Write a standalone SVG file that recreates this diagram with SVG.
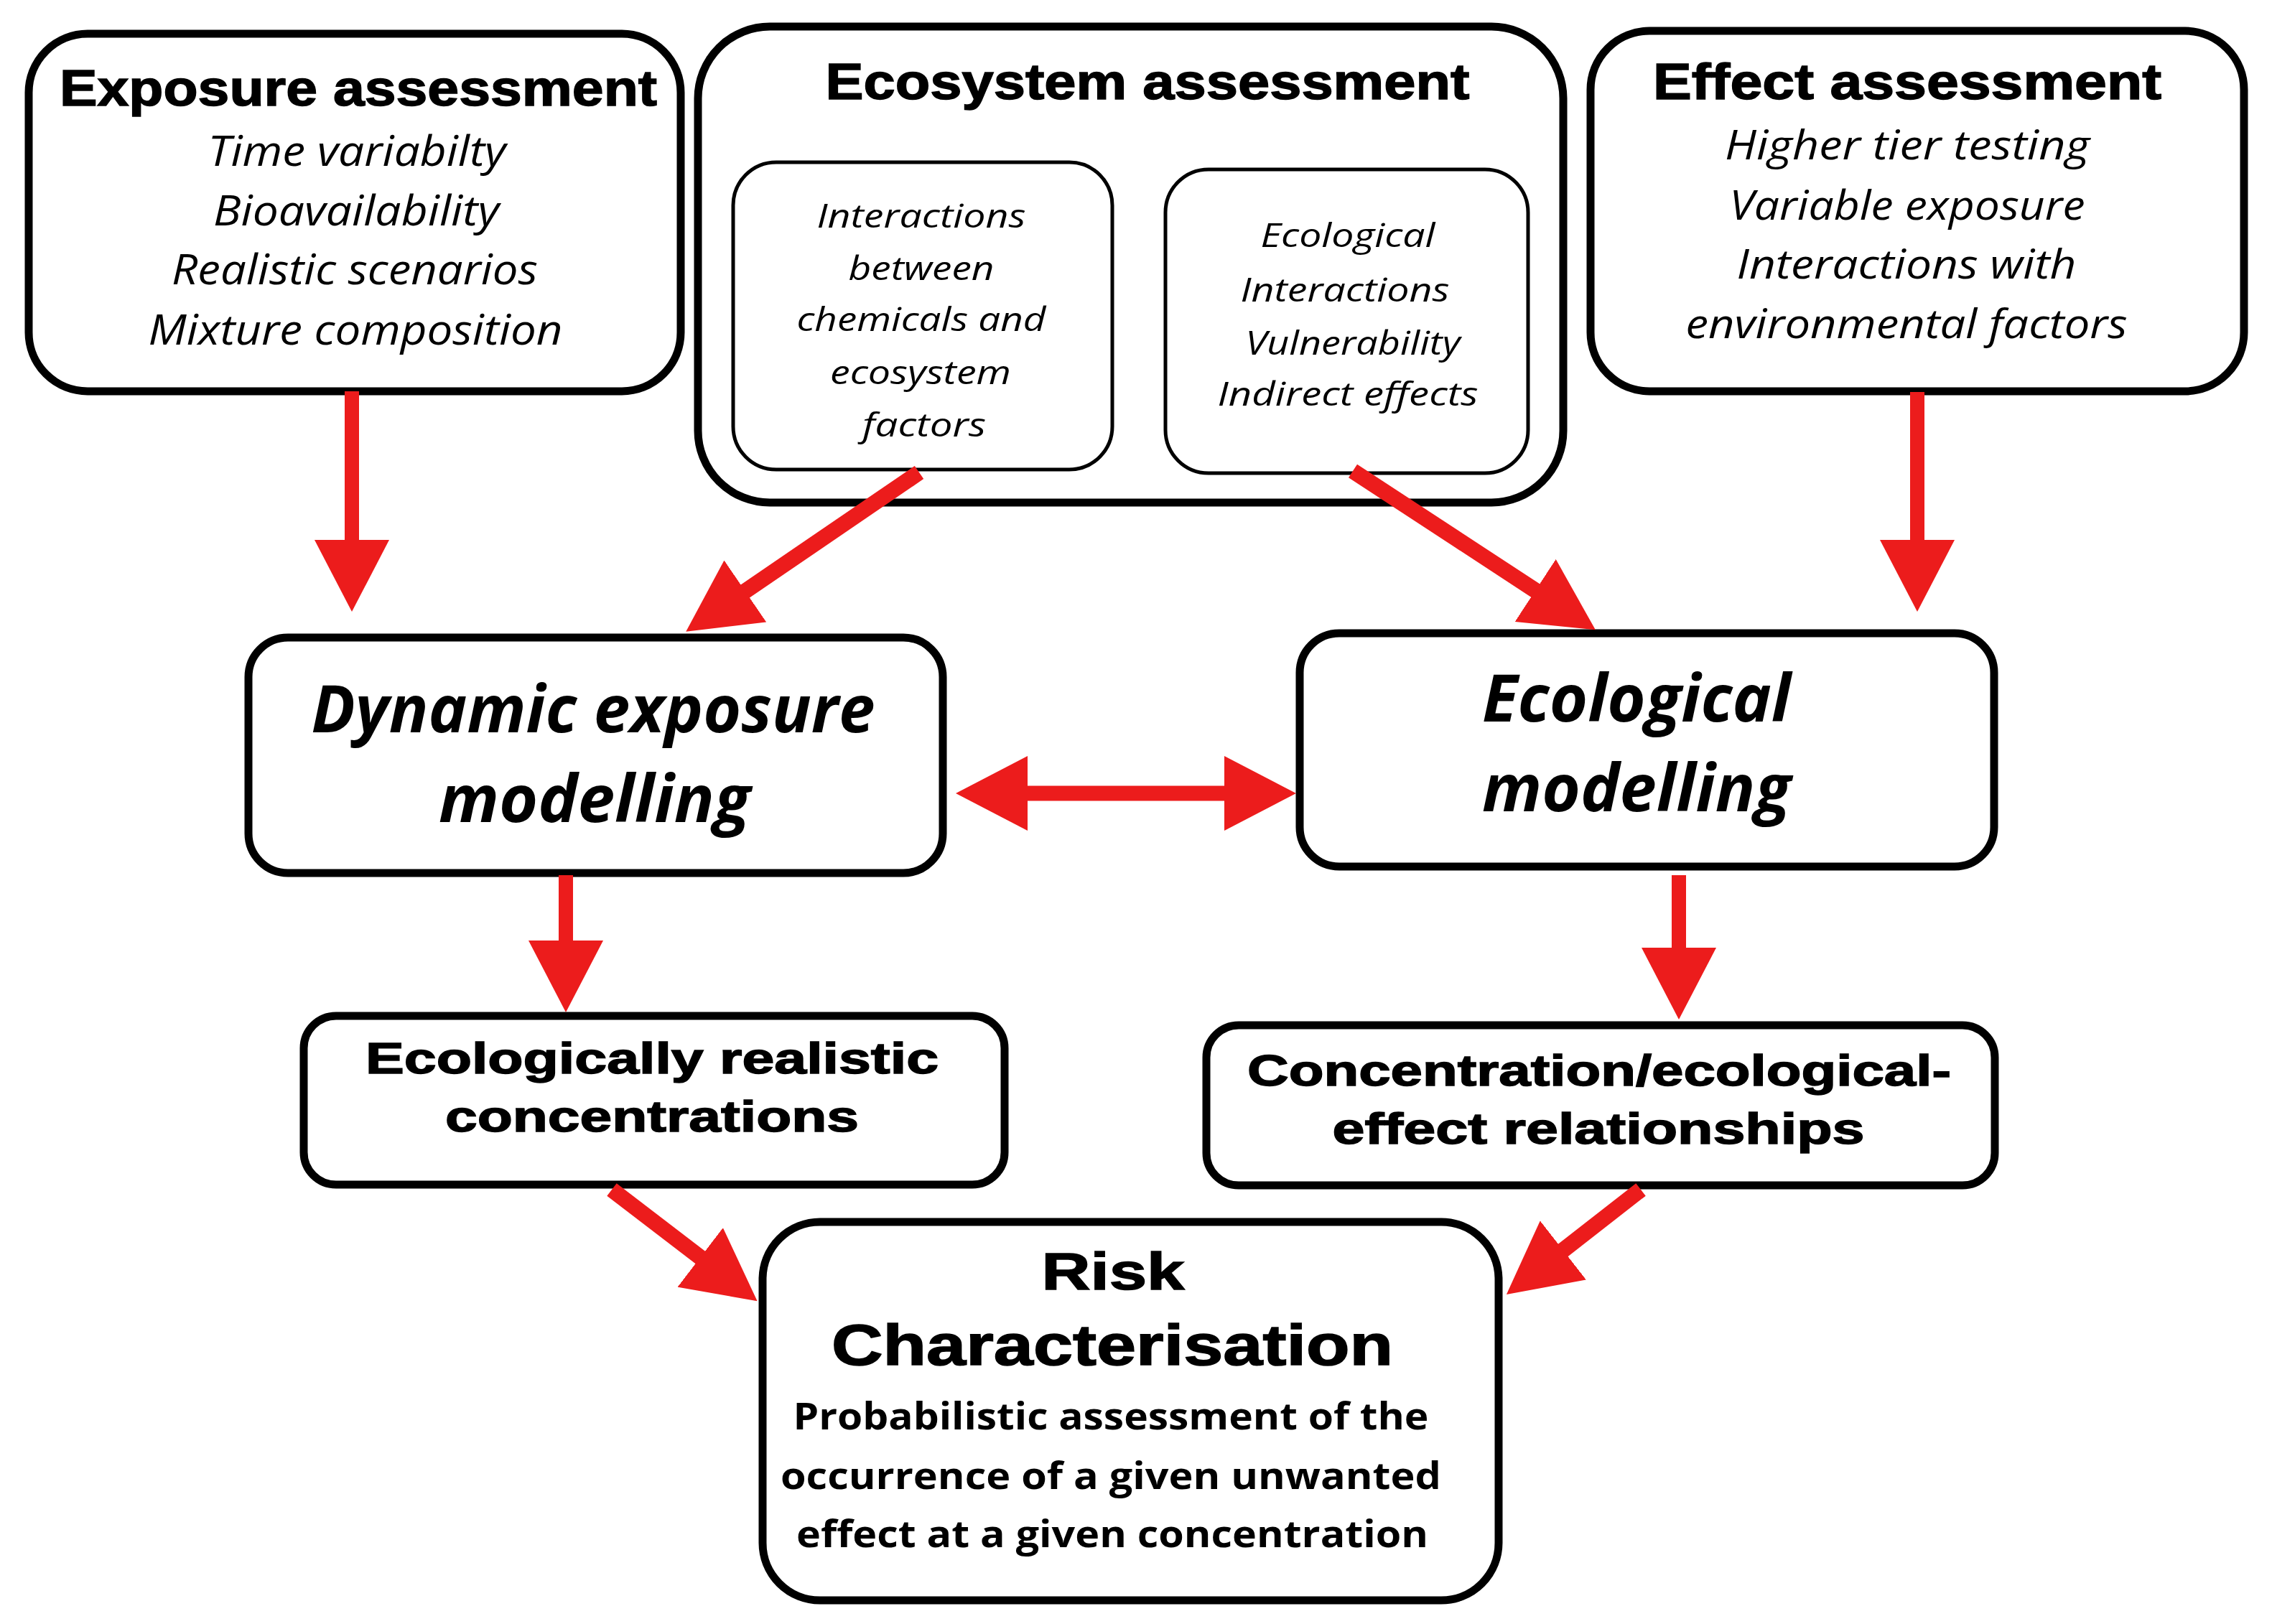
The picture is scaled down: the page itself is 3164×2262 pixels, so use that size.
<svg xmlns="http://www.w3.org/2000/svg" width="3164" height="2262" viewBox="0 0 3164 2262">
<defs>
<style>
.box{fill:#fff;stroke:#000;stroke-width:11}
.inner{fill:#fff;stroke:#000;stroke-width:5}
.title{font-family:"Liberation Sans",Arial,sans-serif;font-weight:700;fill:#000;stroke:#000;stroke-width:1.5;text-anchor:middle}
.it{font-family:"Open Sans","Noto Sans",sans-serif;font-style:italic;font-weight:400;fill:#000;text-anchor:middle}
.bi{font-family:"Open Sans","Noto Sans",sans-serif;font-style:italic;font-weight:700;fill:#000;text-anchor:middle}
.body{font-family:"Open Sans","Noto Sans",sans-serif;font-weight:700;fill:#000;text-anchor:middle}
.arr{stroke:#EC1C1C;fill:none;marker-end:url(#head)}
.dbl{stroke:#EC1C1C;fill:none;marker-start:url(#head2);marker-end:url(#head)}
</style>
<marker id="head" markerUnits="userSpaceOnUse" markerWidth="100" markerHeight="104" viewBox="0 0 100 104" refX="1" refY="52" orient="auto">
<path d="M0,0 L100,52 L0,104 Z" fill="#EC1C1C"/>
</marker>
<marker id="head2" markerUnits="userSpaceOnUse" markerWidth="100" markerHeight="104" viewBox="0 0 100 104" refX="1" refY="52" orient="auto-start-reverse">
<path d="M0,0 L100,52 L0,104 Z" fill="#EC1C1C"/>
</marker>
</defs>
<rect width="3164" height="2262" fill="#fff"/>

<g id="exposure-assessment">
<rect class="box" x="40" y="47" width="908" height="498" rx="82"/>
<text class="title" x="499" y="147" font-size="71" textLength="832" lengthAdjust="spacingAndGlyphs">Exposure assessment</text>
<text class="it" x="497" y="231" font-size="58" textLength="415" lengthAdjust="spacingAndGlyphs">Time variabilty</text>
<text class="it" x="496" y="314" font-size="58" textLength="398" lengthAdjust="spacingAndGlyphs">Bioavailability</text>
<text class="it" x="494" y="396" font-size="58" textLength="510" lengthAdjust="spacingAndGlyphs">Realistic scenarios</text>
<text class="it" x="495" y="480" font-size="58" textLength="577" lengthAdjust="spacingAndGlyphs">Mixture composition</text>
</g>

<g id="ecosystem-assessment">
<rect class="box" x="972" y="37" width="1205" height="663" rx="100"/>
<text class="title" x="1598" y="138" font-size="71" textLength="897" lengthAdjust="spacingAndGlyphs">Ecosystem assessment</text>
</g>

<g id="interactions-chemicals">
<rect class="inner" x="1021" y="226" width="528" height="428" rx="60"/>
<text class="it" x="1283" y="317" font-size="46" textLength="291" lengthAdjust="spacingAndGlyphs">Interactions</text>
<text class="it" x="1283" y="390" font-size="46" textLength="203" lengthAdjust="spacingAndGlyphs">between</text>
<text class="it" x="1283" y="461" font-size="46" textLength="347" lengthAdjust="spacingAndGlyphs">chemicals and</text>
<text class="it" x="1282" y="535" font-size="46" textLength="252" lengthAdjust="spacingAndGlyphs">ecosystem</text>
<text class="it" x="1287" y="608" font-size="46" textLength="172" lengthAdjust="spacingAndGlyphs">factors</text>
</g>

<g id="ecological-interactions">
<rect class="inner" x="1623" y="236" width="505" height="423" rx="60"/>
<text class="it" x="1877" y="344" font-size="46" textLength="243" lengthAdjust="spacingAndGlyphs">Ecological</text>
<text class="it" x="1873" y="420" font-size="46" textLength="291" lengthAdjust="spacingAndGlyphs">Interactions</text>
<text class="it" x="1884" y="494" font-size="46" textLength="299" lengthAdjust="spacingAndGlyphs">Vulnerability</text>
<text class="it" x="1877" y="565" font-size="46" textLength="363" lengthAdjust="spacingAndGlyphs">Indirect effects</text>
</g>

<g id="effect-assessment">
<rect class="box" x="2215" y="43" width="910" height="502" rx="82"/>
<text class="title" x="2656" y="138" font-size="71" textLength="708" lengthAdjust="spacingAndGlyphs">Effect assessment</text>
<text class="it" x="2656" y="222" font-size="56" textLength="508" lengthAdjust="spacingAndGlyphs">Higher tier testing</text>
<text class="it" x="2656" y="306" font-size="56" textLength="495" lengthAdjust="spacingAndGlyphs">Variable exposure</text>
<text class="it" x="2655" y="388" font-size="56" textLength="473" lengthAdjust="spacingAndGlyphs">Interactions with</text>
<text class="it" x="2655" y="471" font-size="56" textLength="615" lengthAdjust="spacingAndGlyphs">environmental factors</text>
</g>

<g id="dynamic-exposure-modelling">
<rect class="box" x="346" y="888" width="967" height="328" rx="55"/>
<text class="bi" x="826" y="1020" font-size="92" textLength="785" lengthAdjust="spacingAndGlyphs">Dynamic exposure</text>
<text class="bi" x="828" y="1145" font-size="92" textLength="434" lengthAdjust="spacingAndGlyphs">modelling</text>
</g>

<g id="ecological-modelling">
<rect class="box" x="1810" y="882" width="967" height="325" rx="55"/>
<text class="bi" x="2279" y="1005" font-size="92" textLength="430" lengthAdjust="spacingAndGlyphs">Ecological</text>
<text class="bi" x="2279" y="1130" font-size="92" textLength="430" lengthAdjust="spacingAndGlyphs">modelling</text>
</g>

<g id="ecologically-realistic-concentrations">
<rect class="box" x="423" y="1415" width="976" height="235" rx="45"/>
<text class="title" x="908" y="1495" font-size="62" textLength="798" lengthAdjust="spacingAndGlyphs">Ecologically realistic</text>
<text class="title" x="908" y="1576" font-size="62" textLength="576" lengthAdjust="spacingAndGlyphs">concentrations</text>
</g>

<g id="concentration-effect-relationships">
<rect class="box" x="1680" y="1428" width="1098" height="223" rx="45"/>
<text class="title" x="2227" y="1512" font-size="62" textLength="980" lengthAdjust="spacingAndGlyphs">Concentration/ecological-</text>
<text class="title" x="2226" y="1593" font-size="62" textLength="741" lengthAdjust="spacingAndGlyphs">effect relationships</text>
</g>

<g id="risk-characterisation">
<rect class="box" x="1062" y="1702" width="1025" height="527" rx="80"/>
<text class="title" x="1550" y="1796" font-size="73" textLength="199" lengthAdjust="spacingAndGlyphs">Risk</text>
<text class="title" x="1549" y="1901" font-size="79" textLength="782" lengthAdjust="spacingAndGlyphs">Characterisation</text>
<text class="body" x="1547" y="1991" font-size="52" textLength="885" lengthAdjust="spacingAndGlyphs">Probabilistic assessment of the</text>
<text class="body" x="1547" y="2074" font-size="52" textLength="920" lengthAdjust="spacingAndGlyphs">occurrence of a given unwanted</text>
<text class="body" x="1549" y="2155" font-size="52" textLength="880" lengthAdjust="spacingAndGlyphs">effect at a given concentration</text>
</g>

<g id="connectors">
<line class="arr" x1="490" y1="545" x2="490" y2="753" stroke-width="20"/>
<line class="arr" x1="2670" y1="546" x2="2670" y2="753" stroke-width="20"/>
<line class="arr" x1="788" y1="1219" x2="788" y2="1311" stroke-width="20"/>
<line class="arr" x1="2338" y1="1219" x2="2338" y2="1321" stroke-width="20"/>
<line class="dbl" x1="1430" y1="1105" x2="1706" y2="1105" stroke-width="21"/>
<line class="arr" x1="1280" y1="658" x2="1037" y2="824" stroke-width="22"/>
<line class="arr" x1="1884" y1="656" x2="2139" y2="823" stroke-width="22"/>
<line class="arr" x1="852" y1="1657" x2="976" y2="1752" stroke-width="22"/>
<line class="arr" x1="2285" y1="1657" x2="2176" y2="1742" stroke-width="22"/>
</g>
</svg>
